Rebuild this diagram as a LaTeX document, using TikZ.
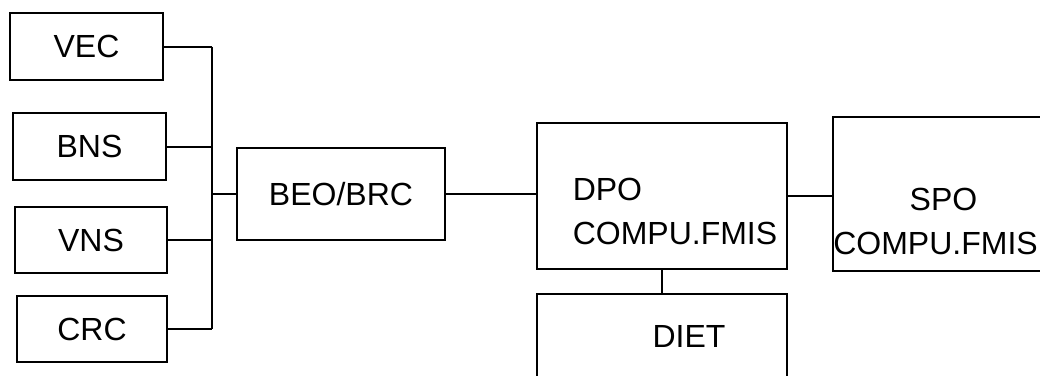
\documentclass[tikz,border=0pt]{standalone}
\usepackage{fontspec}
\setmainfont{Liberation Sans}
\usetikzlibrary{positioning}

\begin{document}
\begin{tikzpicture}[
  x=1pt, y=-1pt,
  font=\fontsize{32}{44}\selectfont,
  box/.style={rectangle, draw, line width=1.8pt, inner sep=0pt, align=center},
  link/.style={line width=2pt}
]
\useasboundingbox (0,0) rectangle (1040,375);

% Left column of offices
\node[box, minimum width=153pt, minimum height=67pt] (vec) at (86.5,46.5) {VEC};
\node[box, minimum width=153pt, minimum height=67pt] (bns) at (89.5,146.5) {BNS};
\node[box, minimum width=152pt, minimum height=66pt] (vns) at (91,240) {VNS};
\node[box, minimum width=150pt, minimum height=66pt] (crc) at (92,329) {CRC};

% Block office
\node[box, minimum width=208pt, minimum height=92pt] (beo) at (341,194) {BEO/BRC};

% District and state offices
\node[box, align=left, minimum width=250pt, minimum height=146pt] (dpo) at (662,196)
  {\rule{0pt}{54pt}\hspace*{26pt}DPO\\\hspace*{26pt}COMPU.FMIS};
\node[box, minimum width=213pt, minimum height=154pt] (spo) at (943.5,194)
  {\rule{0pt}{77pt}SPO\\COMPU.FMIS\hspace*{16pt}};
\node[box, minimum width=250pt, minimum height=84pt] (diet) at (662,336)
  {\hspace*{54pt}DIET};

% Bus line on the left
\coordinate (bus) at (212,0);
\draw[link] (vec.east -| bus) -- (crc.east -| bus);

% Links: offices -> bus
\draw[link] (vec.east) -- (vec.east -| bus);
\draw[link] (bns.east) -- (bns.east -| bus);
\draw[link] (vns.east) -- (vns.east -| bus);
\draw[link] (crc.east) -- (crc.east -| bus);

% Bus -> BEO/BRC -> DPO -> SPO
\draw[link] (beo.west -| bus) -- (beo.west);
\draw[link] (beo.east) -- (beo.east -| dpo.west);
\draw[link] (dpo.east) -- (dpo.east -| spo.west);

% DPO -> DIET
\draw[link] (dpo.south) -- (diet.north);

\end{tikzpicture}
\end{document}
